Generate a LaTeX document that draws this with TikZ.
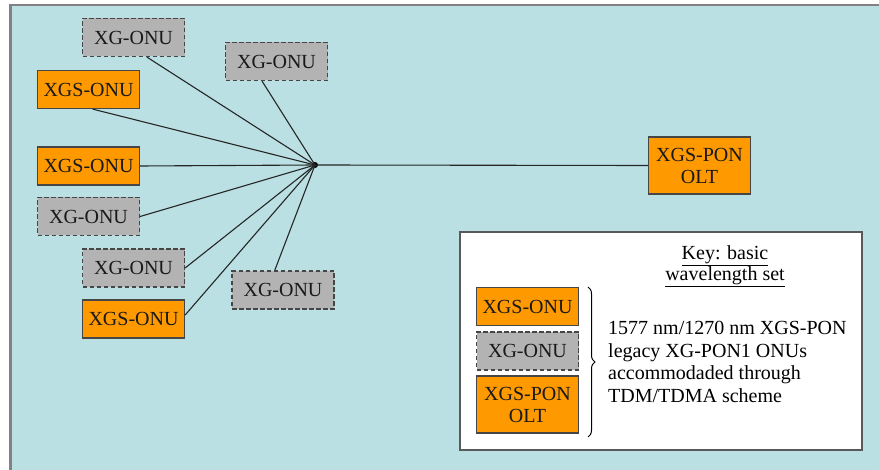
\documentclass[tikz,border=0pt]{standalone}
\usepackage{fontspec}
\setmainfont{Liberation Serif}
\usetikzlibrary{calc,decorations.pathreplacing}

\definecolor{panel}{RGB}{186,224,228}
\definecolor{xgsfill}{RGB}{255,153,0}
\definecolor{xgfill}{RGB}{179,179,179}
\definecolor{edge}{RGB}{70,70,70}
\definecolor{frame}{RGB}{130,130,130}

\tikzset{
  box/.style={draw=edge, line width=1.2pt, inner sep=0pt, align=center,
    font=\rmfamily\fontsize{20}{22}\selectfont, text=black!90,
    minimum width=102pt, minimum height=38pt},
  xgs/.style={box, fill=xgsfill},
  xg/.style={box, fill=xgfill, dashed, dash pattern=on 4.5pt off 2.5pt},
  olt/.style={xgs, minimum height=57pt},
  link/.style={line width=1.1pt, draw=black!85},
}

\begin{document}
\begin{tikzpicture}[x=1pt, y=-1pt]
  \useasboundingbox (0,0) rectangle (879,470);
  % page background and outer panel
  \fill[white] (0,0) rectangle (879,470);
  \begin{scope}
    \clip (0,0) rectangle (879,470);
    \draw[frame, line width=2.5pt, fill=panel] (10.5,5) rectangle (890,480);
  \end{scope}

  % splitter point
  \coordinate (hub) at (315,165);
  \fill (hub) circle (3pt);

  % ONUs
  \node[xg]  (b1) at (133.5,37.5) {XG-ONU};
  \node[xg]  (b2) at (276.5,61.5) {XG-ONU};
  \node[xgs] (b3) at (88.5,89.5)  {XGS-ONU};
  \node[xgs] (b4) at (88.5,166)   {XGS-ONU};
  \node[xg]  (b5) at (88.5,216.5) {XG-ONU};
  \node[xg]  (b6) at (133.5,268)  {XG-ONU};
  \node[xgs] (b7) at (133.5,319)  {XGS-ONU};
  \node[xg]  (b8) at (283,290)    {XG-ONU};

  % OLT
  \node[olt] (olt) at (699.5,165.5) {XGS-PON\\OLT};

  % drop fibres
  \draw[link] (hub) -- ($(b1.south west)!0.63!(b1.south east)$);
  \draw[link] (hub) -- ($(b2.south west)!0.36!(b2.south east)$);
  \draw[link] (hub) -- ($(b3.south west)!0.54!(b3.south east)$);
  \draw[link] (hub) -- (b4.east);
  \draw[link] (hub) -- (b5.east);
  \draw[link] (hub) -- (b6.east);
  \draw[link] (hub) -- ($(b7.north east)!0.4!(b7.south east)$);
  \draw[link] (hub) -- ($(b8.north west)!0.42!(b8.north east)$);
  \draw[link] (hub) -- (olt.west);

  % key
  \draw[draw=black!65, line width=1.4pt, fill=white] (460,232) rectangle (862,450);
  \node[font=\rmfamily\fontsize{20}{21}\selectfont, align=center, anchor=north, inner sep=0pt]
    (keytitle) at (725,245) {\underline{Key: basic}\\\underline{wavelength set}};
  \node[xgs] (k1) at (527.5,306.5) {XGS-ONU};
  \node[xg]  (k2) at (527.5,351)   {XG-ONU};
  \node[olt] (k3) at (527.5,404.5) {XGS-PON\\OLT};
  \coordinate (bt) at (588,287);
  \coordinate (bb) at (588,437);
  \draw[line width=1pt, decorate, decoration={brace, amplitude=7pt}] (bt) -- (bb);
  \node[font=\rmfamily\fontsize{20}{22.5}\selectfont, align=left, anchor=west, inner sep=0pt]
    (keytext) at (608,362) {1577 nm/1270 nm XGS-PON\\legacy XG-PON1 ONUs\\accommodaded through\\TDM/TDMA scheme};
\end{tikzpicture}
\end{document}
